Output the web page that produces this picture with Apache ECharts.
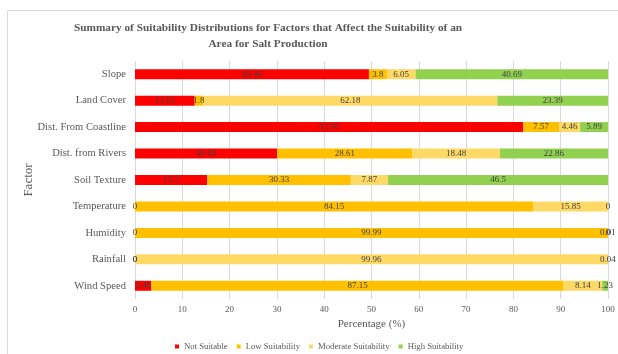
<!DOCTYPE html>
<html>
<head>
<meta charset="utf-8">
<script src="https://cdn.jsdelivr.net/npm/echarts@6/dist/echarts.min.js"></script>
<style>
  html, body { margin: 0; padding: 0; background: #fff; }
  #chart { width: 618px; height: 354px; }
</style>
</head>
<body>
<div id="chart"></div>
<script>
// Factors, listed top to bottom
const factors = ['Slope', 'Land Cover', 'Dist. From Coastline', 'Dist. from Rivers',
  'Soil Texture', 'Temperature', 'Humidity', 'Rainfall', 'Wind Speed'];

// Percentage share of each suitability class per factor
const notSuitable      = [49.46, 12.63, 82.08, 30.05, 15.3, 0, 0, 0, 3.48];
const lowSuitability   = [3.8, 1.8, 7.57, 28.61, 30.33, 84.15, 99.99, 0, 87.15];
const moderateSuit     = [6.05, 62.18, 4.46, 18.48, 7.87, 15.85, 0.01, 99.96, 8.14];
const highSuitability  = [40.69, 23.39, 5.89, 22.86, 46.5, 0, 0, 0.04, 1.23];

const xTicks = [0, 10, 20, 30, 40, 50, 60, 70, 80, 90, 100];

const seriesNames = ['Not Suitable', 'Low Suitability', 'Moderate Suitability', 'High Suitability'];
const seriesData = [notSuitable, lowSuitability, moderateSuit, highSuitability];
const colors = ['#FF0000', '#FFC000', '#FFD966', '#92D050'];

const serif = '"Liberation Serif", "DejaVu Serif", serif';

const chart = echarts.init(document.getElementById('chart'), null, { renderer: 'canvas' });

chart.setOption({
  animation: false,
  color: colors,
  graphic: [{
    type: 'rect',
    shape: { x: 7.5, y: 10.5, width: 640, height: 400 },
    style: { fill: 'none', stroke: '#d9d9d9', lineWidth: 1 },
    silent: true
  }],
  title: {
    text: 'Summary of Suitability Distributions for Factors that Affect the Suitability of an\nArea for Salt Production',
    left: 263,
    top: 15,
    textAlign: 'center',
    textStyle: {
      fontFamily: serif, fontWeight: 'bold', fontSize: 11.3,
      color: '#595959', lineHeight: 16
    }
  },
  legend: {
    data: seriesNames,
    top: 337,
    left: 170,
    itemWidth: 4, itemHeight: 4, itemGap: 9,
    icon: 'rect',
    textStyle: { fontFamily: serif, fontSize: 8.7, color: '#595959' }
  },
  grid: { left: 135, right: 10, top: 61, bottom: 55, containLabel: false },
  xAxis: {
    type: 'value',
    min: xTicks[0], max: xTicks[xTicks.length - 1], interval: 10,
    name: 'Percentage (%)',
    nameLocation: 'middle',
    nameGap: 17,
    nameTextStyle: { fontFamily: serif, fontSize: 11, color: '#595959' },
    axisLine: { show: false },
    axisTick: { show: false },
    axisLabel: { fontFamily: serif, fontSize: 9, color: '#595959', margin: 6 },
    splitLine: { lineStyle: { color: '#d9d9d9', width: 1 } }
  },
  yAxis: {
    type: 'category',
    data: factors,
    inverse: true,
    name: 'Factor',
    nameLocation: 'middle',
    nameGap: 100,
    nameMoveOverlap: false,
    nameRotate: 90,
    nameTextStyle: { fontFamily: serif, fontSize: 13, color: '#595959' },
    axisLine: { show: false },
    axisTick: { show: false },
    axisLabel: { fontFamily: serif, fontSize: 10.6, color: '#595959', margin: 9 }
  },
  series: seriesNames.map((name, i) => ({
    name: name,
    type: 'bar',
    stack: 'total',
    barWidth: 10,
    data: seriesData[i],
    itemStyle: { color: colors[i] },
    label: {
      show: true,
      position: 'inside',
      fontFamily: serif,
      fontSize: 9,
      color: '#404040',
      formatter: p => String(p.value)
    }
  }))
});
</script>
</body>
</html>
